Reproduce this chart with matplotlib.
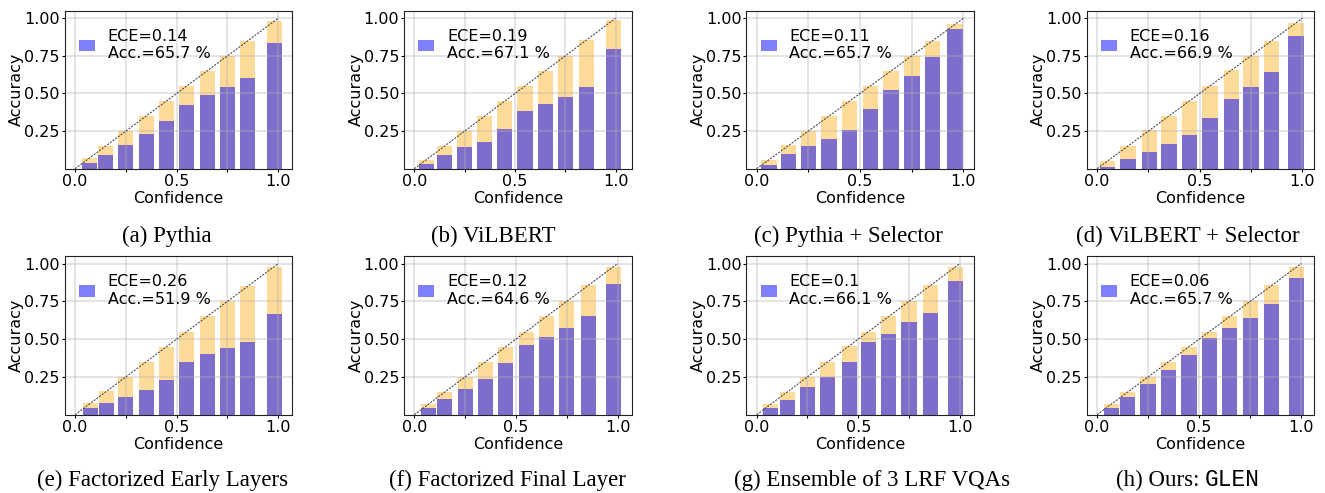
import matplotlib
matplotlib.use("Agg")
import matplotlib.pyplot as plt

# -----------------------------------------------------
# Data: mean confidence per bin and accuracy per bin
# -----------------------------------------------------

conf_a = [0.07, 0.15, 0.25, 0.35, 0.45, 0.55, 0.65, 0.75, 0.85, 0.98]
acc_a = [0.04, 0.09, 0.16, 0.23, 0.32, 0.42, 0.49, 0.54, 0.605, 0.838]

conf_b = [0.06, 0.15, 0.25, 0.35, 0.45, 0.55, 0.65, 0.75, 0.855, 0.99]
acc_b = [0.028, 0.088, 0.141, 0.179, 0.267, 0.385, 0.427, 0.478, 0.545, 0.798]

conf_c = [0.06, 0.155, 0.25, 0.35, 0.45, 0.55, 0.65, 0.75, 0.85, 0.96]
acc_c = [0.025, 0.096, 0.15, 0.196, 0.257, 0.397, 0.525, 0.618, 0.739, 0.926]

conf_d = [0.05, 0.15, 0.255, 0.35, 0.45, 0.55, 0.655, 0.75, 0.85, 0.97]
acc_d = [0.009, 0.063, 0.109, 0.163, 0.223, 0.337, 0.464, 0.545, 0.645, 0.879]

conf_e = [0.075, 0.155, 0.25, 0.35, 0.45, 0.55, 0.65, 0.75, 0.85, 0.98]
acc_e = [0.044, 0.077, 0.117, 0.164, 0.23, 0.35, 0.403, 0.442, 0.482, 0.668]

conf_f = [0.07, 0.15, 0.25, 0.35, 0.45, 0.55, 0.65, 0.75, 0.855, 0.98]
acc_f = [0.044, 0.104, 0.17, 0.237, 0.343, 0.462, 0.515, 0.575, 0.655, 0.867]

conf_g = [0.07, 0.15, 0.25, 0.35, 0.455, 0.55, 0.65, 0.75, 0.855, 0.98]
acc_g = [0.044, 0.097, 0.184, 0.25, 0.35, 0.482, 0.535, 0.615, 0.675, 0.887]

conf_h = [0.07, 0.15, 0.25, 0.35, 0.45, 0.55, 0.65, 0.75, 0.855, 0.975]
acc_h = [0.044, 0.117, 0.203, 0.296, 0.396, 0.509, 0.575, 0.642, 0.735, 0.907]

ece_values = ["0.14", "0.19", "0.11", "0.16", "0.26", "0.12", "0.1", "0.06"]
acc_totals = ["65.7", "67.1", "65.7", "66.9", "51.9", "64.6", "66.1", "65.7"]

captions = [
    "(a) Pythia",
    "(b) ViLBERT",
    "(c) Pythia + Selector",
    "(d) ViLBERT + Selector",
    "(e) Factorized Early Layers",
    "(f) Factorized Final Layer",
    "(g) Ensemble of 3 LRF VQAs",
    "(h) Ours: ",
]

confs = [conf_a, conf_b, conf_c, conf_d, conf_e, conf_f, conf_g, conf_h]
accs = [acc_a, acc_b, acc_c, acc_d, acc_e, acc_f, acc_g, acc_h]

# -----------------------------------------------------
# Layout (pixels of the 1325 x 493 figure)
# -----------------------------------------------------

W, H = 1325, 493
ax_lefts = [64.7, 404.0, 746.3, 1086.7]
ax_width = 227.5
row_tops = [10.7, 256.0]
row_bottoms = [168.7, 414.7]
caption_x = [[167, 493, 848, 1188], [163, 507, 872, 1188]]
caption_y = [236.7, 480.0]

fig = plt.figure(figsize=(W / 100, H / 100), dpi=100)

for i in range(8):
    row, col = divmod(i, 4)
    left = ax_lefts[col] / W
    bottom = 1 - row_bottoms[row] / H
    height = (row_bottoms[row] - row_tops[row]) / H
    ax = fig.add_axes([left, bottom, ax_width / W, height])

    conf = confs[i]
    acc = accs[i]

    ax.bar(conf, conf, width=0.075, color="orange", alpha=0.4)
    ax.bar(conf, acc, width=0.075, color="blue", alpha=0.5,
           label="ECE=%s\nAcc.=%s %%" % (ece_values[i], acc_totals[i]))
    ax.plot([0, 1], [0, 1], color="#444444", linestyle=(0, (2.0, 1.2)), linewidth=0.75)

    ax.set_ylim(0, 1.05)
    ax.set_xticks([0, 0.25, 0.5, 0.75, 1.0])
    ax.set_xticklabels(["0.0", "", "0.5", "", "1.0"])
    ax.set_yticks([0.25, 0.5, 0.75, 1.0])
    ax.set_yticklabels(["0.25", "0.50", "0.75", "1.00"])
    ax.tick_params(labelsize=11.5, length=2.5, pad=1)
    ax.grid(True, color="#b0b0b0", alpha=0.4, linewidth=1.2)

    ax.set_xlabel("Confidence", fontsize=11.5, labelpad=1.5)
    ax.set_ylabel("Accuracy", fontsize=11.5, labelpad=0)

    for spine in ax.spines.values():
        spine.set_color("#222222")

    ax.legend(loc="upper left", bbox_to_anchor=(0, 0.975), frameon=False,
              fontsize=11.5, handlelength=1.0, handletextpad=0.8)

    fig.text(caption_x[row][col] / W, 1 - caption_y[row] / H, captions[i],
             ha="center", va="center", fontsize=16.5, family="Liberation Serif")

# caption (h) has a monospace part: place both pieces centred together
fig.texts[-1].remove()
renderer = fig.canvas.get_renderer()
t1 = fig.text(0, 1 - caption_y[1] / H, "(h) Ours:", ha="left", va="center",
              fontsize=16.5, family="Liberation Serif")
t2 = fig.text(0, 1 - caption_y[1] / H, "GLEN", ha="left", va="center",
              fontsize=16.5, family="Liberation Mono")
w1 = t1.get_window_extent(renderer).width
w2 = t2.get_window_extent(renderer).width
gap = 16.5 * 100 / 72 * 0.25
start = caption_x[1][3] - (w1 + gap + w2) / 2
t1.set_x(start / W)
t2.set_x((start + w1 + gap) / W)

plt.savefig("out.png", dpi=100)
plt.close()
